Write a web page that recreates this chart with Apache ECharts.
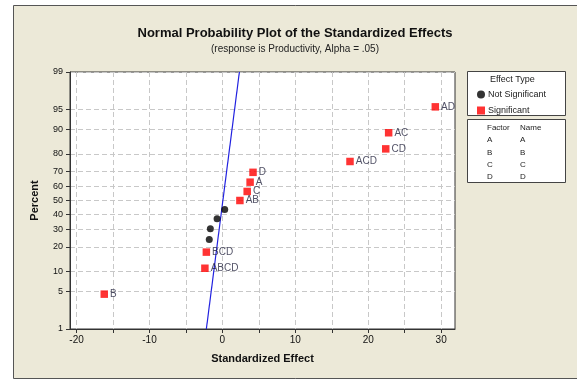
<!DOCTYPE html>
<html>
<head>
<meta charset="utf-8">
<script src="https://cdn.jsdelivr.net/npm/echarts@6/dist/echarts.min.js"></script>
<style>
  html, body { margin: 0; padding: 0; background: #ffffff; }
  #chart { width: 577px; height: 382px; }
</style>
</head>
<body>
<div id="chart"></div>
<script>
// values
var percentTicks = [1, 5, 10, 20, 30, 40, 50, 60, 70, 80, 90, 95, 99]
var xLabelTicks = [-20, -10, 0, 10, 20, 30]
var xMinorTicks = [-20, -15, -10, -5, 0, 5, 10, 15, 20, 25, 30]

var notSigEffect = [-1.8, -1.65, -0.73, 0.32]
var notSigPercent = [24, 30.5, 37, 43.5]

var sigNames = ['B', 'ABCD', 'BCD', 'AB', 'C', 'A', 'D', 'ACD', 'CD', 'AC', 'AD']
var sigEffect = [-16.2, -2.4, -2.2, 2.4, 3.4, 3.8, 4.2, 17.5, 22.4, 22.8, 29.2]
var sigPercent = [4.5, 11, 17.5, 50, 56.5, 63, 69.5, 76, 82.5, 89, 95.5]

var lineEffect = [-2.2, 2.33]
var linePercent = [1, 99]

var factors = ['A', 'B', 'C', 'D']
var factorNames = ['A', 'B', 'C', 'D']

// normal probability scale: percent -> z
function probit(pct) {
    var p = pct / 100
    var a = [-39.69683028665376, 220.9460984245205, -275.9285104469687, 138.3577518672690, -30.66479806614716, 2.506628277459239]
    var b = [-54.47609879822406, 161.5858368580409, -155.6989798598866, 66.80131188771972, -13.28068155288572]
    var c = [-0.007784894002430293, -0.3223964580411365, -2.400758277161838, -2.549732539343734, 4.374664141464968, 2.938163982698783]
    var d = [0.007784695709041462, 0.3224671290700398, 2.445134137142996, 3.754408661907416]
    var plow = 0.02425
    var q, r
    if (p < plow) {
        q = Math.sqrt(-2 * Math.log(p))
        return (((((c[0]*q+c[1])*q+c[2])*q+c[3])*q+c[4])*q+c[5]) / ((((d[0]*q+d[1])*q+d[2])*q+d[3])*q+1)
    }
    if (p <= 1 - plow) {
        q = p - 0.5
        r = q * q
        return (((((a[0]*r+a[1])*r+a[2])*r+a[3])*r+a[4])*r+a[5])*q / (((((b[0]*r+b[1])*r+b[2])*r+b[3])*r+b[4])*r+1)
    }
    q = Math.sqrt(-2 * Math.log(1 - p))
    return -(((((c[0]*q+c[1])*q+c[2])*q+c[3])*q+c[4])*q+c[5]) / ((((d[0]*q+d[1])*q+d[2])*q+d[3])*q+1)
}

var zTicks = percentTicks.map(probit)

function pctLabel(v) {
    var best = 0
    for (var i = 1; i < zTicks.length; i++) {
        if (Math.abs(zTicks[i] - v) < Math.abs(zTicks[best] - v)) best = i
    }
    return String(percentTicks[best])
}

var notSigData = []
for (var i = 0; i < notSigEffect.length; i++) {
    notSigData.push([notSigEffect[i], probit(notSigPercent[i])])
}
var sigData = []
for (var i = 0; i < sigNames.length; i++) {
    sigData.push({ name: sigNames[i], value: [sigEffect[i], probit(sigPercent[i])] })
}
var lineData = []
for (var i = 0; i < lineEffect.length; i++) {
    lineData.push([lineEffect[i], probit(linePercent[i])])
}

var font = 'Liberation Sans'

var myChart = echarts.init(document.getElementById('chart'))
var option = {
    backgroundColor: '#ffffff',
    animation: false,
    textStyle: { fontFamily: font },
    title: {
        text: 'Normal Probability Plot of the Standardized Effects',
        subtext: '(response is Productivity, Alpha = .05)',
        left: 290,
        textAlign: 'center',
        top: 22,
        itemGap: 4,
        textStyle: { fontSize: 13, fontWeight: 'bold', color: '#111', fontFamily: font },
        subtextStyle: { fontSize: 10, color: '#222', fontFamily: font }
    },
    graphic: [
        {
            type: 'rect', z: -10, silent: true,
            shape: { x: 13.5, y: 5.5, width: 600, height: 373 },
            style: { fill: '#ece9d8', stroke: '#555', lineWidth: 1 }
        },
        {
            type: 'rect', z: 1,
            shape: { x: 467.5, y: 71.5, width: 98, height: 44 },
            style: { fill: '#ffffff', stroke: '#444', lineWidth: 1 }
        },
        {
            type: 'text', z: 2, left: 490, top: 75,
            style: { text: 'Effect Type', fontSize: 9, fill: '#222', fontFamily: font }
        },
        {
            type: 'rect', z: 1,
            shape: { x: 467.5, y: 119.5, width: 98, height: 63 },
            style: { fill: '#ffffff', stroke: '#444', lineWidth: 1 }
        },
        {
            type: 'text', z: 2, left: 487, top: 124,
            style: { text: 'Factor', fontSize: 8, fill: '#222', fontFamily: font }
        },
        {
            type: 'text', z: 2, left: 520, top: 124,
            style: { text: 'Name', fontSize: 8, fill: '#222', fontFamily: font }
        },
        {
            type: 'text', z: 2, left: 487, top: 134,
            style: { text: factors.join('\n'), fontSize: 8, lineHeight: 12.3, fill: '#222', fontFamily: font }
        },
        {
            type: 'text', z: 2, left: 520, top: 134,
            style: { text: factorNames.join('\n'), fontSize: 8, lineHeight: 12.3, fill: '#222', fontFamily: font }
        }
    ],
    legend: {
        orient: 'vertical',
        left: 472,
        top: 85,
        itemWidth: 8,
        itemHeight: 8,
        itemGap: 7,
        z: 3,
        data: ['Not Significant', 'Significant'],
        textStyle: { fontSize: 9, color: '#222', fontFamily: font, padding: [0, 0, 0, -2] }
    },
    grid: {
        left: 70, top: 72, width: 385, height: 257,
        show: true, backgroundColor: '#ffffff', borderColor: '#333', borderWidth: 1
    },
    xAxis: {
        type: 'value',
        min: -20.9,
        max: 31.9,
        name: 'Standardized Effect',
        nameLocation: 'middle',
        nameGap: 24,
        nameTextStyle: { fontSize: 11, fontWeight: 'bold', color: '#111' },
        axisLine: { onZero: false, lineStyle: { color: '#333' } },
        axisTick: { show: true, length: 4, customValues: xMinorTicks, lineStyle: { color: '#333' } },
        axisLabel: { customValues: xLabelTicks, fontSize: 10, color: '#111', margin: 6 },
        splitLine: { show: true, lineStyle: { color: '#c8c8c8', type: [5, 3] } }
    },
    yAxis: {
        type: 'value',
        min: probit(1),
        max: probit(99),
        name: 'Percent',
        nameLocation: 'middle',
        nameGap: 30,
        nameTextStyle: { fontSize: 11, fontWeight: 'bold', color: '#111' },
        axisLine: { show: true, onZero: false, lineStyle: { color: '#333' } },
        axisTick: { show: true, length: 4, customValues: zTicks, lineStyle: { color: '#333' } },
        axisLabel: { customValues: zTicks, fontSize: 9, color: '#111', margin: 7, formatter: pctLabel },
        splitLine: { show: true, lineStyle: { color: '#c8c8c8', type: [5, 3] } }
    },
    series: [
        {
            name: 'Fit',
            type: 'line',
            data: lineData,
            symbol: 'none',
            lineStyle: { color: '#2020e0', width: 1.2 },
            z: 2
        },
        {
            name: 'Not Significant',
            type: 'scatter',
            data: notSigData,
            symbol: 'circle',
            symbolSize: 7,
            itemStyle: { color: '#000000' },
            z: 3
        },
        {
            name: 'Significant',
            type: 'scatter',
            data: sigData,
            symbol: 'rect',
            symbolSize: 7.5,
            itemStyle: { color: '#ff0000' },
            label: {
                show: true,
                position: 'right',
                distance: 2,
                formatter: '{b}',
                fontSize: 10,
                color: '#262640'
            },
            z: 3
        }
    ]
}
myChart.setOption(option)
</script>
</body>
</html>
